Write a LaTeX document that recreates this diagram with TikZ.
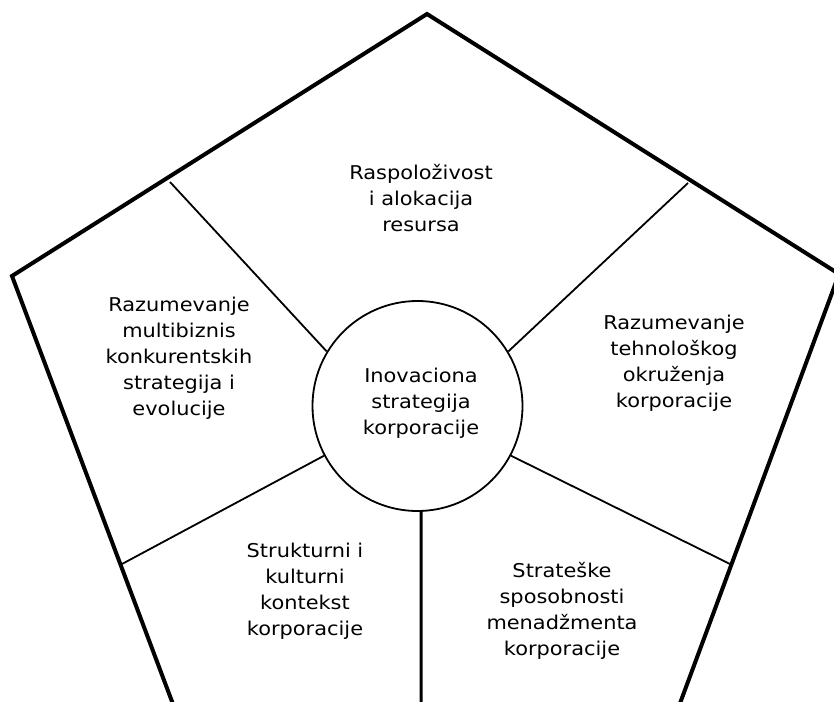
\documentclass[tikz,border=0pt]{standalone}
\usepackage{fontspec}
\setmainfont{DejaVu Sans}[FakeStretch=1.1]
\begin{document}
\begin{tikzpicture}[x=1pt,y=-1pt,
  rim/.style={line width=4pt,line join=miter},
  spoke/.style={line width=1.8pt},
  label/.style={align=center,font=\fontsize{19}{26}\selectfont,text=black,inner sep=0pt}]
\useasboundingbox (0,0) rectangle (834,701);
\clip (0,0) rectangle (834,701);
% outer pentagon (its lower corners lie below the frame)
\coordinate (top) at (427,14);
\coordinate (left) at (12,276);
\coordinate (right) at (839,274);
\coordinate (bl) at (194,760);
\coordinate (br) at (659,760);
\draw[rim] (bl) -- (left) -- (top) -- (right) -- (br);
% central circle
\node[circle,draw,line width=1.8pt,minimum size=210pt,inner sep=0pt] (core) at (417.5,406) {};
\node[label] (center) at (421,403) {Inovaciona\\strategija\\korporacije};
% spokes from the rim to the circle
\coordinate (ul) at (170,182);
\coordinate (ur) at (688,183);
\coordinate (ll) at (122,564);
\coordinate (lr) at (730,564);
\coordinate (down) at (421,760);
\draw[spoke] (ul) -- (core.149);
\draw[spoke] (ur) -- (core.31.6);
\draw[spoke] (ll) -- (core.208);
\draw[spoke] (lr) -- (core.332);
\draw[line width=3pt] (core.272) -- (down);
% sector labels
\node[label] (resources) at (421,198) {Raspoloživost\\i alokacija\\resursa};
\node[label] (multi) at (179,358) {Razumevanje\\multibiznis\\konkurentskih\\strategija i\\evolucije};
\node[label] (tech) at (674,363) {Razumevanje\\tehnološkog\\okruženja\\korporacije};
\node[label] (struct) at (305,591) {Strukturni i\\kulturni\\kontekst\\korporacije};
\node[label] (mgmt) at (562,611) {Strateške\\sposobnosti\\menadžmenta\\korporacije};
\end{tikzpicture}
\end{document}
